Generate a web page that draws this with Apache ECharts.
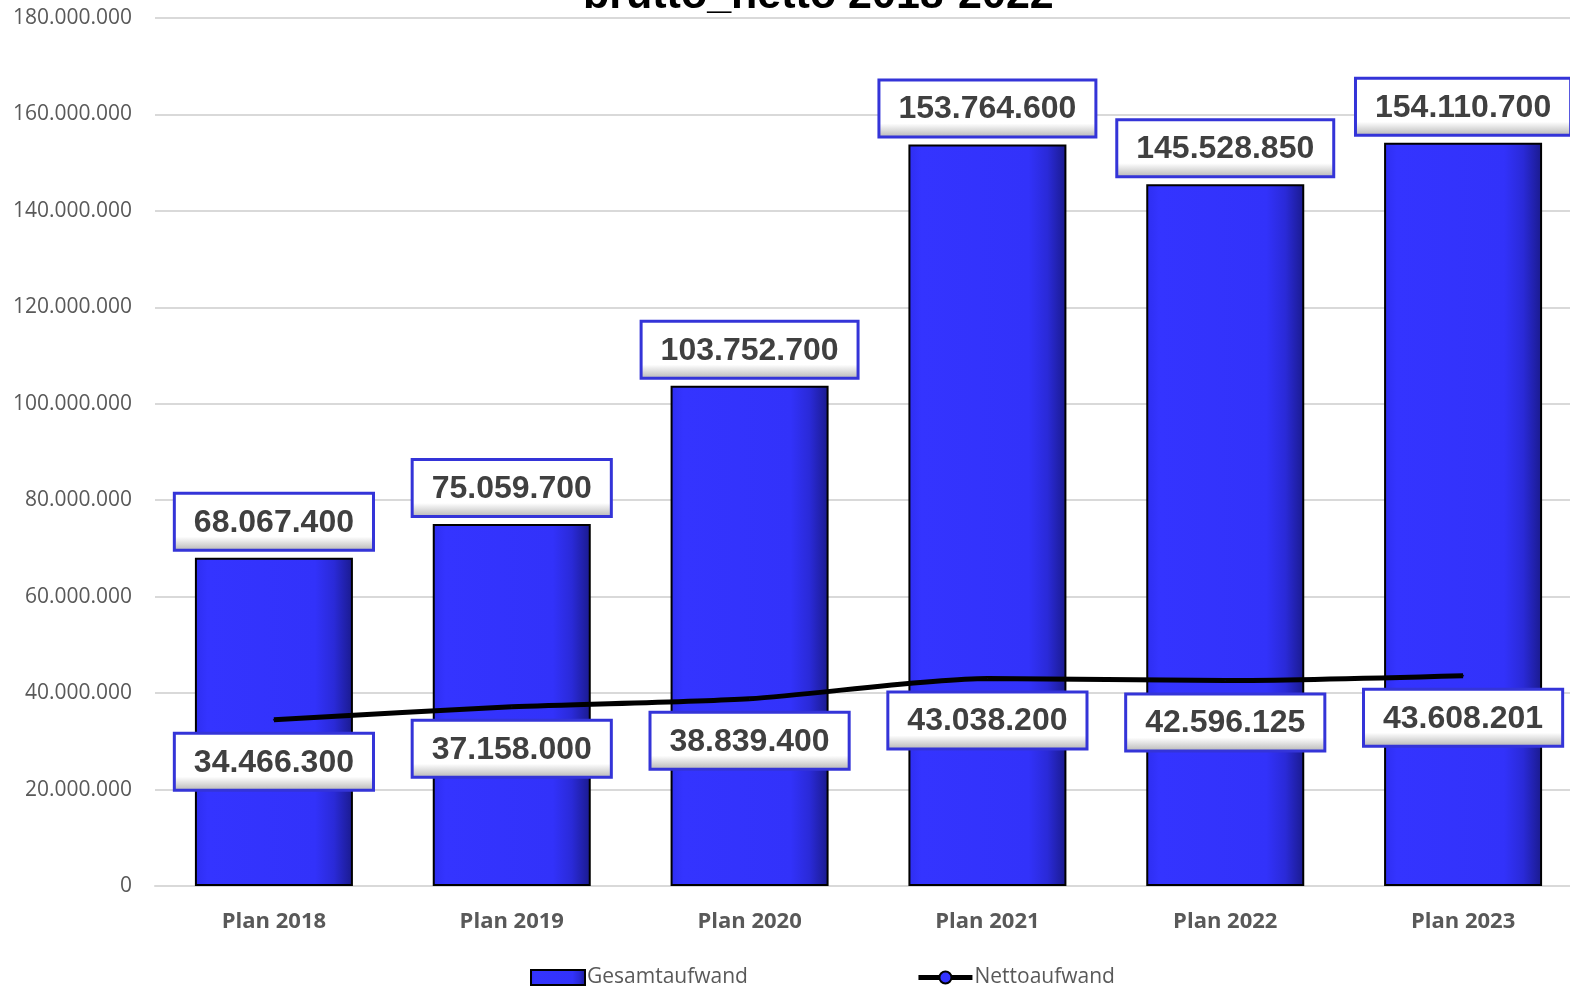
<!DOCTYPE html>
<html><head><meta charset="utf-8">
<script src="https://cdn.jsdelivr.net/npm/echarts@6/dist/echarts.min.js"></script>
<style>html,body{margin:0;padding:0;background:#fff;overflow:hidden}#c{width:1586px;height:987px}</style>
</head><body><div id="c"></div>
<script>
const categories = ['Plan 2018','Plan 2019','Plan 2020','Plan 2021','Plan 2022','Plan 2023'];
const gesamtaufwand = [68067400, 75059700, 103752700, 153764600, 145528850, 154110700];
const nettoaufwand = [34466300, 37158000, 38839400, 43038200, 42596125, 43608201];
const seriesNames = ['Gesamtaufwand','Nettoaufwand'];
const titleText = 'brutto_netto 2018-2022';

function fmt(v){ return String(Math.round(v)).replace(/\B(?=(\d{3})+(?!\d))/g,'.'); }

const boxLabel = {
  show: true,
  formatter: p => fmt(p.value),
  fontFamily: 'Liberation Sans, Arial, sans-serif',
  fontWeight: 'bold',
  fontSize: 32,
  lineHeight: 32,
  color: '#404040',
  backgroundColor: {type:'linear',x:0,y:0,x2:0,y2:1,colorStops:[{offset:0,color:'#ffffff'},{offset:0.75,color:'#ffffff'},{offset:1,color:'#b0b0b0'}]},
  borderColor: '#3434d8',
  borderWidth: 3,
  padding: [12, 18, 10, 18]
};

const chart = echarts.init(document.getElementById('c'));
chart.setOption({
  animation: false,
  title: {
    text: titleText, left: 578, top: -30,
    textStyle: {fontFamily:'Liberation Sans, Arial, sans-serif', fontWeight:'bold', fontSize:43, color:'#000'}
  },
  grid: {left: 155, top: 18, width: 1427, height: 868, containLabel: false},
  legend: {
    left: 525, top: 962, itemGap: 168, itemWidth: 54, itemHeight: 15,
    textStyle: {fontFamily:'Open Sans, sans-serif', fontSize: 21, color:'#595959', padding:[0,0,0,-3]},
    data: [
      {name: seriesNames[0], icon: 'rect'},
      {name: seriesNames[1], lineStyle: {width: 5, color: '#000'}}
    ]
  },
  xAxis: {
    type: 'category', data: categories,
    axisLine: {lineStyle: {color:'#d9d9d9', width: 2}},
    axisTick: {show:false},
    axisLabel: {fontFamily:'Open Sans, sans-serif', fontWeight:'bold', fontSize:22, color:'#595959', margin: 25}
  },
  yAxis: {
    type: 'value', min: 0, max: 180000000, interval: 20000000,
    axisLine: {show:false}, axisTick: {show:false},
    splitLine: {lineStyle: {color:'#d9d9d9', width: 2}},
    axisLabel: {formatter: v => fmt(v), fontFamily:'Open Sans, sans-serif', fontSize:21, color:'#595959', margin: 23}
  },
  series: [
    {
      name: seriesNames[0], type: 'bar', data: gesamtaufwand, barWidth: 158,
      itemStyle: {
        color: {type:'linear',x:0,y:0,x2:1,y2:0,colorStops:[
          {offset:0,color:'#2e2ef0'},{offset:0.08,color:'#3434ff'},{offset:0.76,color:'#3232fa'},
          {offset:0.88,color:'#2a2ad8'},{offset:1,color:'#1a1a8c'}]},
        borderColor: '#000', borderWidth: 2
      },
      label: Object.assign({position: 'top', distance: 9}, boxLabel),
      z: 2
    },
    {
      name: seriesNames[1], type: 'line', data: nettoaufwand,
      smooth: 0.25, symbol: 'circle', symbolSize: 1,
      lineStyle: {color:'#000', width: 5},
      itemStyle: {color:'#3333ff', borderColor:'#000', borderWidth: 1},
      label: Object.assign({position: 'bottom', distance: 14}, boxLabel),
      z: 3
    }
  ]
});
</script></body></html>
